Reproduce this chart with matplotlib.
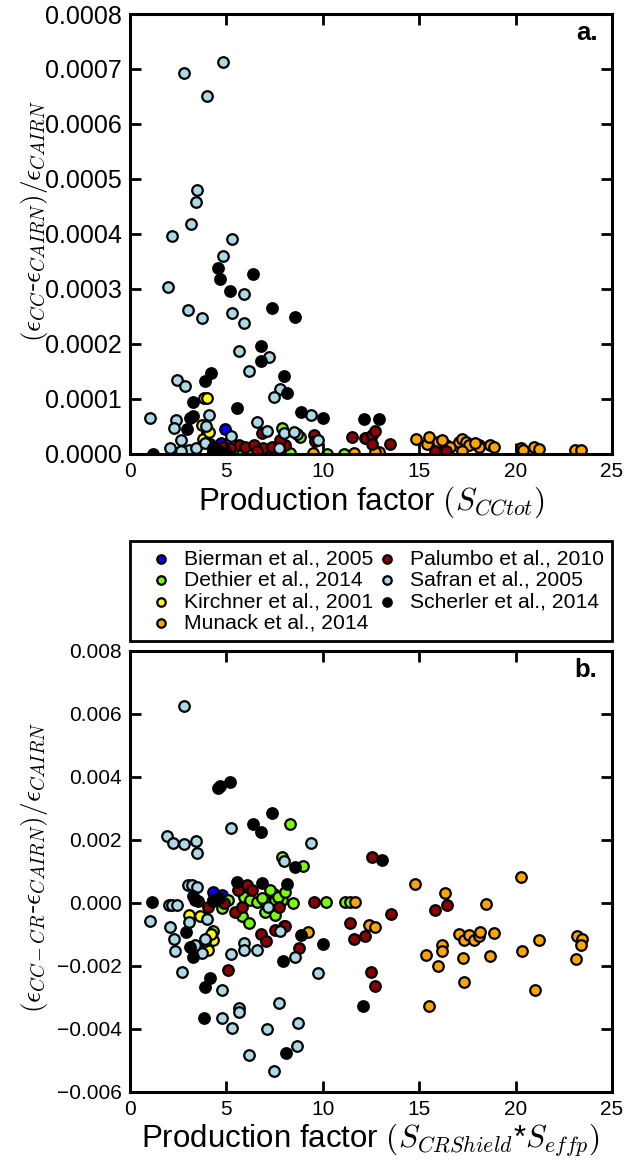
import numpy as np
import matplotlib
matplotlib.use('Agg')
import matplotlib.pyplot as plt
from matplotlib.ticker import FuncFormatter, MultipleLocator

plt.rcParams['font.family'] = ['Liberation Sans', 'DejaVu Sans']
plt.rcParams['mathtext.fontset'] = 'cm'

# названия работ (порядок легенды)
studies = ['Bierman et al., 2005', 'Dethier et al., 2014', 'Kirchner et al., 2001',
           'Munack et al., 2014', 'Palumbo et al., 2010', 'Safran et al., 2005',
           'Scherler et al., 2014']
colors = ['#0000ff', '#7cfc00', '#ffff00', '#ffa500', '#8b0000', '#add8e6', '#000000']

# панель a: x = S_CCtot, y в единицах 1e-4
a_x = {
    'Bierman et al., 2005': [4.94, 4.7],
    'Dethier et al., 2014': [5.63, 5.8, 7.87, 8.3, 8.8, 10.2, 11.1, 4.3, 6.3],
    'Kirchner et al., 2001': [3.85, 4.0, 3.72, 3.98, 3.8, 4.1],
    'Munack et al., 2014': [9.5, 11.6, 12.9, 12.7, 14.86, 15.4, 15.5, 16.0, 16.4, 16.6, 17.05, 17.2,
                            17.45, 17.6, 18.1, 18.1, 18.7, 18.9, 20.26, 20.4, 20.95, 21.2, 23.1,
                            23.4, 17.2, 16.2, 17.9],
    'Palumbo et al., 2010': [4.16, 4.33, 5.63, 5.97, 6.41, 6.84, 6.9, 7.36, 8.05, 9.52, 9.61, 11.5,
                             12.2, 12.26, 12.55, 12.55, 12.73, 13.5, 15.8, 16.4, 6.6, 7.8, 5.2, 4.8],
    'Safran et al., 2005': [2.8, 4.8, 3.98, 3.48, 3.43, 3.17, 2.2, 5.28, 4.8, 1.99, 5.92, 3.0, 3.72,
                            5.31, 5.94, 5.63, 7.19, 6.15, 2.46, 2.86, 7.76, 7.45, 1.06, 2.39, 2.29,
                            4.12, 3.93, 5.25, 9.4, 6.58, 7.12, 7.97, 8.66, 9.73, 2.08, 2.65, 3.05,
                            3.4, 2.67, 7.74, 8.5, 3.9, 4.3],
    'Scherler et al., 2014': [4.55, 4.68, 6.37, 5.19, 7.36, 8.57, 6.8, 6.79, 4.21, 3.9, 7.97, 8.14,
                              3.25, 5.57, 3.29, 3.1, 2.94, 8.88, 9.99, 12.12, 12.9, 1.21, 4.33, 4.6,
                              5.0],
}
a_y = {
    'Bierman et al., 2005': [0.45, 0.2],
    'Dethier et al., 2014': [0.0, 0.0, 0.47, 0.02, 0.3, 0.0, 0.0, 0.05, 0.03],
    'Kirchner et al., 2001': [1.01, 1.02, 0.53, 0.38, 0.28, 0.4],
    'Munack et al., 2014': [0.02, 0.02, 0.03, 0.04, 0.27, 0.19, 0.31, 0.22, 0.16, 0.12, 0.22, 0.28,
                            0.22, 0.17, 0.16, 0.13, 0.16, 0.13, 0.10, 0.08, 0.13, 0.09, 0.07, 0.07,
                            0.05, 0.25, 0.2],
    'Palumbo et al., 2010': [0.19, 0.13, 0.16, 0.13, 0.16, 0.38, 0.1, 0.13, 0.16, 0.35, 0.24, 0.31,
                             0.29, 0.29, 0.35, 0.19, 0.41, 0.18, 0.06, 0.06, 0.05, 0.25, 0.1, 0.12],
    'Safran et al., 2005': [6.93, 7.13, 6.5, 4.8, 4.58, 4.19, 3.97, 3.9, 3.6, 3.04, 2.91, 2.62, 2.48,
                            2.56, 2.38, 1.87, 1.77, 1.51, 1.35, 1.24, 1.19, 1.04, 0.66, 0.61, 0.47,
                            0.70, 0.51, 0.32, 0.70, 0.59, 0.41, 0.38, 0.36, 0.25, 0.11, 0.25, 0.07,
                            0.10, 0.05, 0.10, 0.4, 0.2, 0.1],
    'Scherler et al., 2014': [3.38, 3.18, 3.27, 2.96, 2.65, 2.49, 1.96, 1.69, 1.48, 1.33, 1.42, 1.11,
                              0.94, 0.83, 0.69, 0.65, 0.45, 0.76, 0.65, 0.64, 0.64, 0.0, 0.08, 0.05,
                              0.02],
}

# панель b: x = S_CRShield*S_effp, y в единицах 1e-3
b_x = {
    'Bierman et al., 2005': [4.33, 4.76],
    'Dethier et al., 2014': [8.28, 7.88, 8.97, 4.76, 5.1, 5.89, 6.23, 6.58, 7.01, 7.45, 7.53, 7.88,
                             6.84, 7.27, 7.7, 8.05, 8.48, 10.18, 11.17, 11.43, 5.8, 6.15, 7.01, 7.53,
                             4.33],
    'Kirchner et al., 2001': [3.06, 3.64, 4.33, 4.07, 3.9, 4.2],
    'Munack et al., 2014': [11.69, 12.38, 12.73, 9.23, 14.8, 16.36, 18.48, 20.26, 17.06, 17.32, 17.58,
                            17.83, 18.1, 18.15, 18.87, 16.16, 16.19, 15.38, 15.98, 17.26, 18.7,
                            20.31, 21.21, 23.2, 23.46, 23.38, 23.12, 15.5, 17.35, 21.0],
    'Palumbo et al., 2010': [12.55, 15.84, 16.42, 3.55, 4.07, 4.9, 6.06, 5.59, 6.32, 5.45, 5.8, 7.74,
                             7.97, 9.52, 11.39, 13.54, 11.6, 12.21, 6.8, 7.05, 7.5, 8.05, 8.78, 12.5,
                             12.73, 5.07],
    'Safran et al., 2005': [2.8, 5.23, 1.94, 2.22, 2.8, 3.41, 3.46, 9.4, 7.97, 3.0, 3.2, 1.04, 2.0,
                            2.2, 2.45, 7.15, 7.79, 8.57, 9.73, 2.08, 2.3, 2.34, 2.69, 3.08, 3.98, 3.9,
                            3.72, 3.38, 5.23, 5.92, 5.92, 6.58, 4.76, 4.76, 5.28, 5.63, 5.63, 7.74,
                            7.1, 8.71, 6.15, 8.66, 7.45, 4.3, 3.46],
    'Scherler et al., 2014': [4.54, 4.68, 5.19, 7.36, 6.37, 6.8, 8.57, 13.07, 1.13, 3.29, 3.38, 4.3,
                              4.64, 5.54, 6.84, 8.14, 2.91, 8.88, 10.0, 7.95, 12.09, 3.12, 3.29, 4.16,
                              3.9, 3.84, 8.09],
}
b_y = {
    'Bierman et al., 2005': [0.36, 0.25],
    'Dethier et al., 2014': [2.51, 1.46, 1.17, -0.17, 0.1, 0.2, 0.1, 0.04, 0.04, 0.3, 0.1, 0.1, 0.15,
                             0.41, 0.2, 0.36, 0.01, 0.02, 0.04, 0.04, -0.41, -0.63, -0.28, -0.38,
                             -0.89],
    'Kirchner et al., 2001': [-0.38, -0.41, -1.17, -1.49, -1.2, -1.0],
    'Munack et al., 2014': [0.04, -0.7, -0.77, -0.93, 0.6, 0.33, -0.04, 0.81, -0.99, -1.17, -1.02,
                            -1.17, -1.06, -0.91, -0.94, -1.33, -1.54, -1.65, -2.0, -1.74, -1.68,
                            -1.51, -1.17, -1.05, -1.15, -1.33, -1.78, -3.27, -2.5, -2.75],
    'Palumbo et al., 2010': [1.45, -0.22, -0.06, 0.07, -0.12, 0.0, 0.57, 0.41, 0.41, -0.28, -0.14,
                             -0.12, -0.73, 0.04, -0.63, -0.36, -1.15, -1.05, -0.98, -1.2, -0.86,
                             -0.73, -1.44, -2.18, -2.63, -2.13],
    'Safran et al., 2005': [6.26, 2.39, 2.14, 1.91, 1.87, 1.98, 1.6, 1.91, 1.32, 0.57, 0.57, -0.57,
                            -0.05, -0.05, -0.05, -0.12, -0.89, -1.7, -2.23, -0.75, -1.15, -1.51,
                            -2.18, -0.59, -0.52, -1.15, -1.58, -1.33, -1.62, -1.26, -1.5, -1.5,
                            -2.76, -3.66, -3.96, -3.34, -3.45, -3.16, -4.0, -3.8, -4.84, -4.53,
                            -5.35, 0.05, 0.52],
    'Scherler et al., 2014': [3.64, 3.72, 3.83, 2.86, 2.5, 2.26, 1.14, 1.37, 0.02, 0.22, 0.1, 0.1,
                              0.16, 0.68, 0.63, 0.6, -0.91, -1.02, -1.3, -1.83, -3.26, -1.4, -1.72,
                              -2.39, -2.66, -3.66, -4.77],
}

fig = plt.figure(figsize=(6.24, 11.67), dpi=100)
ax1 = fig.add_axes([0.2083, 0.611, 0.7724, 0.377])
ax2 = fig.add_axes([0.2083, 0.0643, 0.7724, 0.3779])

for name, c in zip(studies, colors):
    ax1.scatter(a_x[name], np.array(a_y[name]) * 1e-4, s=58, c=c,
                edgecolors='k', linewidths=1.6, label=name)
    ax2.scatter(b_x[name], np.array(b_y[name]) * 1e-3, s=58, c=c,
                edgecolors='k', linewidths=1.6, label=name)

def minus_fmt(decimals):
    return FuncFormatter(lambda v, p: ('%.*f' % (decimals, v)).replace('-', '\u2212'))

for ax in (ax1, ax2):
    ax.set_xlim(0, 25)
    ax.xaxis.set_major_locator(MultipleLocator(5))
    ax.tick_params(direction='in', top=True, right=True, length=8, width=2,
                   labelsize=15, pad=6)
    for sp in ax.spines.values():
        sp.set_linewidth(2.2)

ax1.set_ylim(0, 0.0008)
ax1.yaxis.set_major_locator(MultipleLocator(0.0001))
ax1.yaxis.set_major_formatter(minus_fmt(4))
ax1.tick_params(axis='y', labelsize=18)
ax2.set_ylim(-0.006, 0.008)
ax2.yaxis.set_major_locator(MultipleLocator(0.002))
ax2.yaxis.set_major_formatter(minus_fmt(3))

ax1.set_xlabel(r'Production factor $(S_{CCtot})$', fontsize=22.5, labelpad=2)
ax1.set_ylabel(r'$(\epsilon_{CC}$-$\epsilon_{CAIRN})/\epsilon_{CAIRN}$', fontsize=19.5)
ax1.yaxis.set_label_coords(-0.165, 0.53)
ax2.set_xlabel(r'Production factor $(S_{CRShield}$*$S_{effp})$', fontsize=22.5, labelpad=2)
ax2.set_ylabel(r'$(\epsilon_{CC-CR}$-$\epsilon_{CAIRN})/\epsilon_{CAIRN}$', fontsize=19.5)
ax2.yaxis.set_label_coords(-0.165, 0.51)

ax1.text(0.97, 0.985, 'a.', transform=ax1.transAxes, ha='right', va='top',
         fontsize=18.5, fontweight='bold')
ax2.text(0.97, 0.985, 'b.', transform=ax2.transAxes, ha='right', va='top',
         fontsize=18.5, fontweight='bold')

leg = ax2.legend(loc='lower left', bbox_to_anchor=(0, 1.023, 1, 0.2), mode='expand',
                 ncol=2, fontsize=15.2, fancybox=False, edgecolor='k', framealpha=1,
                 handletextpad=0.0, labelspacing=0.12, columnspacing=0.2,
                 borderpad=0.38, handlelength=2.17, markerscale=0.8, borderaxespad=0)
leg.get_frame().set_linewidth(2)

fig.savefig('out.png', dpi=100)
